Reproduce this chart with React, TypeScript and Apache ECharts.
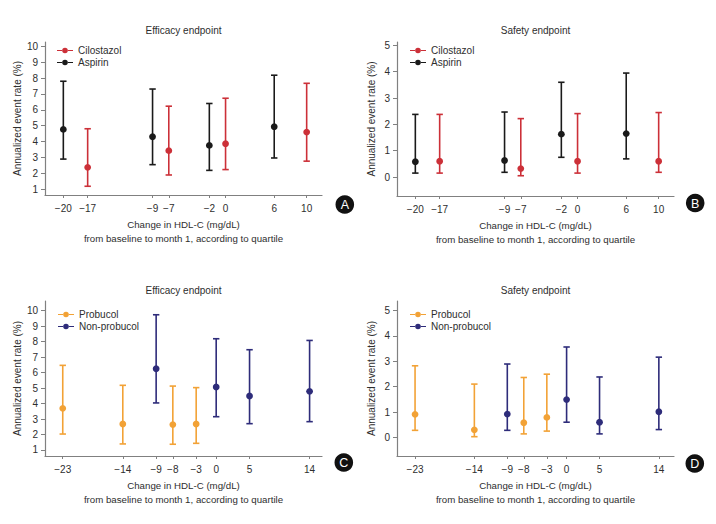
import React, { useEffect, useRef } from "react";
import * as echarts from "echarts";

// ---------- Data ----------
// Panels A/B: change in HDL-C (mg/dL) by quartile
const aspirinHdl = [-20, -9, -2, 6];
const cilostazolHdl = [-17, -7, 0, 10];
const abTickValues = [-20, -17, -9, -7, -2, 0, 6, 10];
const abTickLabels = ["−20", "−17", "−9", "−7", "−2", "0", "6", "10"];

// A: efficacy endpoint (annualized event rate %, mean and 95% CI)
const cilostazolEffMean = [2.38, 3.43, 3.87, 4.6];
const cilostazolEffLow = [1.19, 1.9, 2.24, 2.77];
const cilostazolEffHigh = [4.81, 6.23, 6.73, 7.67];
const aspirinEffMean = [4.77, 4.31, 3.76, 4.94];
const aspirinEffLow = [2.9, 2.55, 2.19, 2.97];
const aspirinEffHigh = [7.8, 7.31, 6.4, 8.18];

// B: safety endpoint
const cilostazolSafMean = [0.6, 0.32, 0.6, 0.6];
const cilostazolSafLow = [0.15, 0.05, 0.15, 0.18];
const cilostazolSafHigh = [2.38, 2.22, 2.41, 2.45];
const aspirinSafMean = [0.58, 0.63, 1.63, 1.65];
const aspirinSafLow = [0.15, 0.18, 0.75, 0.69];
const aspirinSafHigh = [2.38, 2.47, 3.6, 3.95];

// Panels C/D: plotted positions (the "−8" quartile is drawn offset in the original figure)
const probucolPos = [-23, -14, -6.5, -3];
const nonProbucolPos = [-9, 0, 5, 14];
const cdTickValues = [-23, -14, -9, -6.5, -3, 0, 5, 14];
const cdTickLabels = ["−23", "−14", "−9", "−8", "−3", "0", "5", "14"];

// C: efficacy endpoint
const probucolEffMean = [3.69, 2.68, 2.64, 2.68];
const probucolEffLow = [2.03, 1.39, 1.37, 1.43];
const probucolEffHigh = [6.47, 5.18, 5.13, 5.03];
const nonProbucolEffMean = [6.25, 5.07, 4.49, 4.79];
const nonProbucolEffLow = [4.04, 3.15, 2.7, 2.83];
const nonProbucolEffHigh = [9.74, 8.19, 7.48, 8.08];

// D: safety endpoint
const probucolSafMean = [0.91, 0.3, 0.58, 0.79];
const probucolSafLow = [0.28, 0.03, 0.14, 0.25];
const probucolSafHigh = [2.82, 2.1, 2.36, 2.49];
const nonProbucolSafMean = [0.92, 1.49, 0.6, 1.01];
const nonProbucolSafLow = [0.28, 0.6, 0.14, 0.31];
const nonProbucolSafHigh = [2.89, 3.56, 2.38, 3.16];

const efficacyYTicks = [1, 2, 3, 4, 5, 6, 7, 8, 9, 10];
const safetyYTicks = [0, 1, 2, 3, 4, 5];

const panelTitles = ["Efficacy endpoint", "Safety endpoint", "Efficacy endpoint", "Safety endpoint"];
const panelBadges = ["A", "B", "C", "D"];

// ---------- Styling ----------
const FONT = "'Liberation Sans', Arial, sans-serif";
const TXT = "#2e2e2e";
const AXIS = "#808080";
const RED = "#cc3038";
const BLACK = "#1a1a1a";
const ORANGE = "#f2a236";
const NAVY = "#2e2c7a";

const LEGEND_ICON =
  "path://M0,2.4 L5.4,2.4 L5.4,3.6 L0,3.6 Z M10.6,2.4 L16,2.4 L16,3.6 L10.6,3.6 Z M5.2,3 A2.8,2.8 0 1,0 10.8,3 A2.8,2.8 0 1,0 5.2,3 Z";

function rows(xs: number[], mean: number[], low: number[], high: number[]) {
  return xs.map((x, i) => [x, mean[i], low[i], high[i]]);
}

const renderErrorBar = (_params: any, api: any) => {
  const x = api.value(0);
  const pM = api.coord([x, api.value(1)]);
  const pLo = api.coord([x, api.value(2)]);
  const pHi = api.coord([x, api.value(3)]);
  const color = api.visual("color");
  const cap = 3.2;
  const ls = { stroke: color, lineWidth: 1.6 };
  return {
    type: "group",
    children: [
      { type: "line", shape: { x1: pHi[0], y1: pHi[1], x2: pLo[0], y2: pLo[1] }, style: ls },
      { type: "line", shape: { x1: pHi[0] - cap, y1: pHi[1], x2: pHi[0] + cap, y2: pHi[1] }, style: ls },
      { type: "line", shape: { x1: pLo[0] - cap, y1: pLo[1], x2: pLo[0] + cap, y2: pLo[1] }, style: ls },
      { type: "circle", shape: { cx: pM[0], cy: pM[1], r: 3.4 }, style: { fill: color } },
    ],
  };
};

const panels = [
  {
    grid: { left: 45, top: 42, width: 277, height: 153 },
    x: [-22.26, 11.89], y: [0.64, 10.27], yTicks: efficacyYTicks,
    xTicks: abTickValues, xLabels: abTickLabels,
    legend: { left: 57, top: 45 },
    title: [183.5, 30], badge: [344.8, 204.5],
    series: [
      { name: "Cilostazol", color: RED, data: rows(cilostazolHdl, cilostazolEffMean, cilostazolEffLow, cilostazolEffHigh) },
      { name: "Aspirin", color: BLACK, data: rows(aspirinHdl, aspirinEffMean, aspirinEffLow, aspirinEffHigh) },
    ],
  },
  {
    grid: { left: 397, top: 42, width: 277, height: 154 },
    x: [-22.26, 11.89], y: [-0.72, 5.13], yTicks: safetyYTicks,
    xTicks: abTickValues, xLabels: abTickLabels,
    legend: { left: 410, top: 45 },
    title: [535.5, 30], badge: [695.2, 203],
    series: [
      { name: "Cilostazol", color: RED, data: rows(cilostazolHdl, cilostazolSafMean, cilostazolSafLow, cilostazolSafHigh) },
      { name: "Aspirin", color: BLACK, data: rows(aspirinHdl, aspirinSafMean, aspirinSafLow, aspirinSafHigh) },
    ],
  },
  {
    grid: { left: 45, top: 301, width: 277, height: 155 },
    x: [-25.66, 15.86], y: [0.61, 10.63], yTicks: efficacyYTicks,
    xTicks: cdTickValues, xLabels: cdTickLabels,
    legend: { left: 58, top: 309 },
    title: [183.5, 290], badge: [343.8, 462.5],
    series: [
      { name: "Probucol", color: ORANGE, data: rows(probucolPos, probucolEffMean, probucolEffLow, probucolEffHigh) },
      { name: "Non-probucol", color: NAVY, data: rows(nonProbucolPos, nonProbucolEffMean, nonProbucolEffLow, nonProbucolEffHigh) },
    ],
  },
  {
    grid: { left: 397, top: 301, width: 277, height: 155 },
    x: [-25.74, 16.3], y: [-0.73, 5.37], yTicks: safetyYTicks,
    xTicks: cdTickValues, xLabels: cdTickLabels,
    legend: { left: 410, top: 309 },
    title: [535.5, 290], badge: [694.8, 463.5],
    series: [
      { name: "Probucol", color: ORANGE, data: rows(probucolPos, probucolSafMean, probucolSafLow, probucolSafHigh) },
      { name: "Non-probucol", color: NAVY, data: rows(nonProbucolPos, nonProbucolSafMean, nonProbucolSafLow, nonProbucolSafHigh) },
    ],
  },
];

function buildOption() {
  const grid: any[] = [];
  const xAxis: any[] = [];
  const yAxis: any[] = [];
  const series: any[] = [];
  const legend: any[] = [];
  const graphic: any[] = [];

  panels.forEach((p, i) => {
    grid.push({ ...p.grid, containLabel: false });
    xAxis.push({
      type: "value",
      gridIndex: i,
      min: p.x[0],
      max: p.x[1],
      splitLine: { show: false },
      axisLine: { onZero: false, lineStyle: { color: AXIS, width: 1.2 } },
      axisTick: { customValues: p.xTicks, length: 3, lineStyle: { color: AXIS } },
      axisLabel: {
        customValues: p.xTicks,
        margin: 8,
        fontSize: 10,
        fontFamily: FONT,
        color: TXT,
        formatter: (v: number) => {
          const k = p.xTicks.findIndex((t) => Math.abs(t - v) < 1e-6);
          return k >= 0 ? p.xLabels[k] : "";
        },
      },
      name: "Change in HDL-C (mg/dL)\nfrom baseline to month 1, according to quartile",
      nameLocation: "middle",
      nameGap: 22,
      nameTextStyle: { fontSize: 9.7, fontFamily: FONT, color: TXT, lineHeight: 14.5 },
    });
    yAxis.push({
      type: "value",
      gridIndex: i,
      min: p.y[0],
      max: p.y[1],
      splitLine: { show: false },
      axisLine: { show: true, onZero: false, lineStyle: { color: AXIS, width: 1.2 } },
      axisTick: { show: true, customValues: p.yTicks, length: 4, lineStyle: { color: AXIS } },
      axisLabel: { customValues: p.yTicks, margin: 7, fontSize: 10, fontFamily: FONT, color: TXT },
      name: "Annualized event rate (%)",
      nameLocation: "middle",
      nameGap: 21,
      nameTextStyle: { fontSize: 10, fontFamily: FONT, color: TXT },
    });
    p.series.forEach((s) => {
      series.push({
        type: "custom",
        name: s.name,
        xAxisIndex: i,
        yAxisIndex: i,
        itemStyle: { color: s.color },
        encode: { x: 0, y: [1, 2, 3] },
        renderItem: renderErrorBar,
        data: s.data,
      });
    });
    legend.push({
      orient: "vertical",
      left: p.legend.left,
      top: p.legend.top,
      padding: 0,
      itemGap: 1,
      itemWidth: 16,
      itemHeight: 6,
      selectedMode: false,
      icon: LEGEND_ICON,
      data: p.series.map((s) => s.name),
      textStyle: { fontSize: 10, fontFamily: FONT, color: TXT, lineHeight: 11 },
    });
    graphic.push({
      type: "text",
      x: p.title[0],
      y: p.title[1],
      style: {
        text: panelTitles[i],
        align: "center",
        verticalAlign: "middle",
        fontSize: 10,
        fontFamily: FONT,
        fill: TXT,
      },
    });
    graphic.push({
      type: "circle",
      shape: { cx: p.badge[0], cy: p.badge[1], r: 9.3 },
      style: { fill: "#111111" },
    });
    graphic.push({
      type: "text",
      x: p.badge[0],
      y: p.badge[1] + 0.5,
      style: {
        text: panelBadges[i],
        align: "center",
        verticalAlign: "middle",
        fontSize: 12.5,
        fontFamily: FONT,
        fill: "#ffffff",
      },
    });
  });

  return {
    animation: false,
    backgroundColor: "#ffffff",
    grid,
    xAxis,
    yAxis,
    series,
    legend,
    graphic,
  };
}

export default function App() {
  const ref = useRef<HTMLDivElement>(null);
  useEffect(() => {
    if (!ref.current) return;
    const chart = echarts.init(ref.current, undefined, { renderer: "svg" });
    chart.setOption(buildOption() as any);
    return () => chart.dispose();
  }, []);
  return (
    <div
      ref={ref}
      style={{ position: "fixed", left: 0, top: 0, width: 716, height: 524, background: "#ffffff" }}
    />
  );
}
